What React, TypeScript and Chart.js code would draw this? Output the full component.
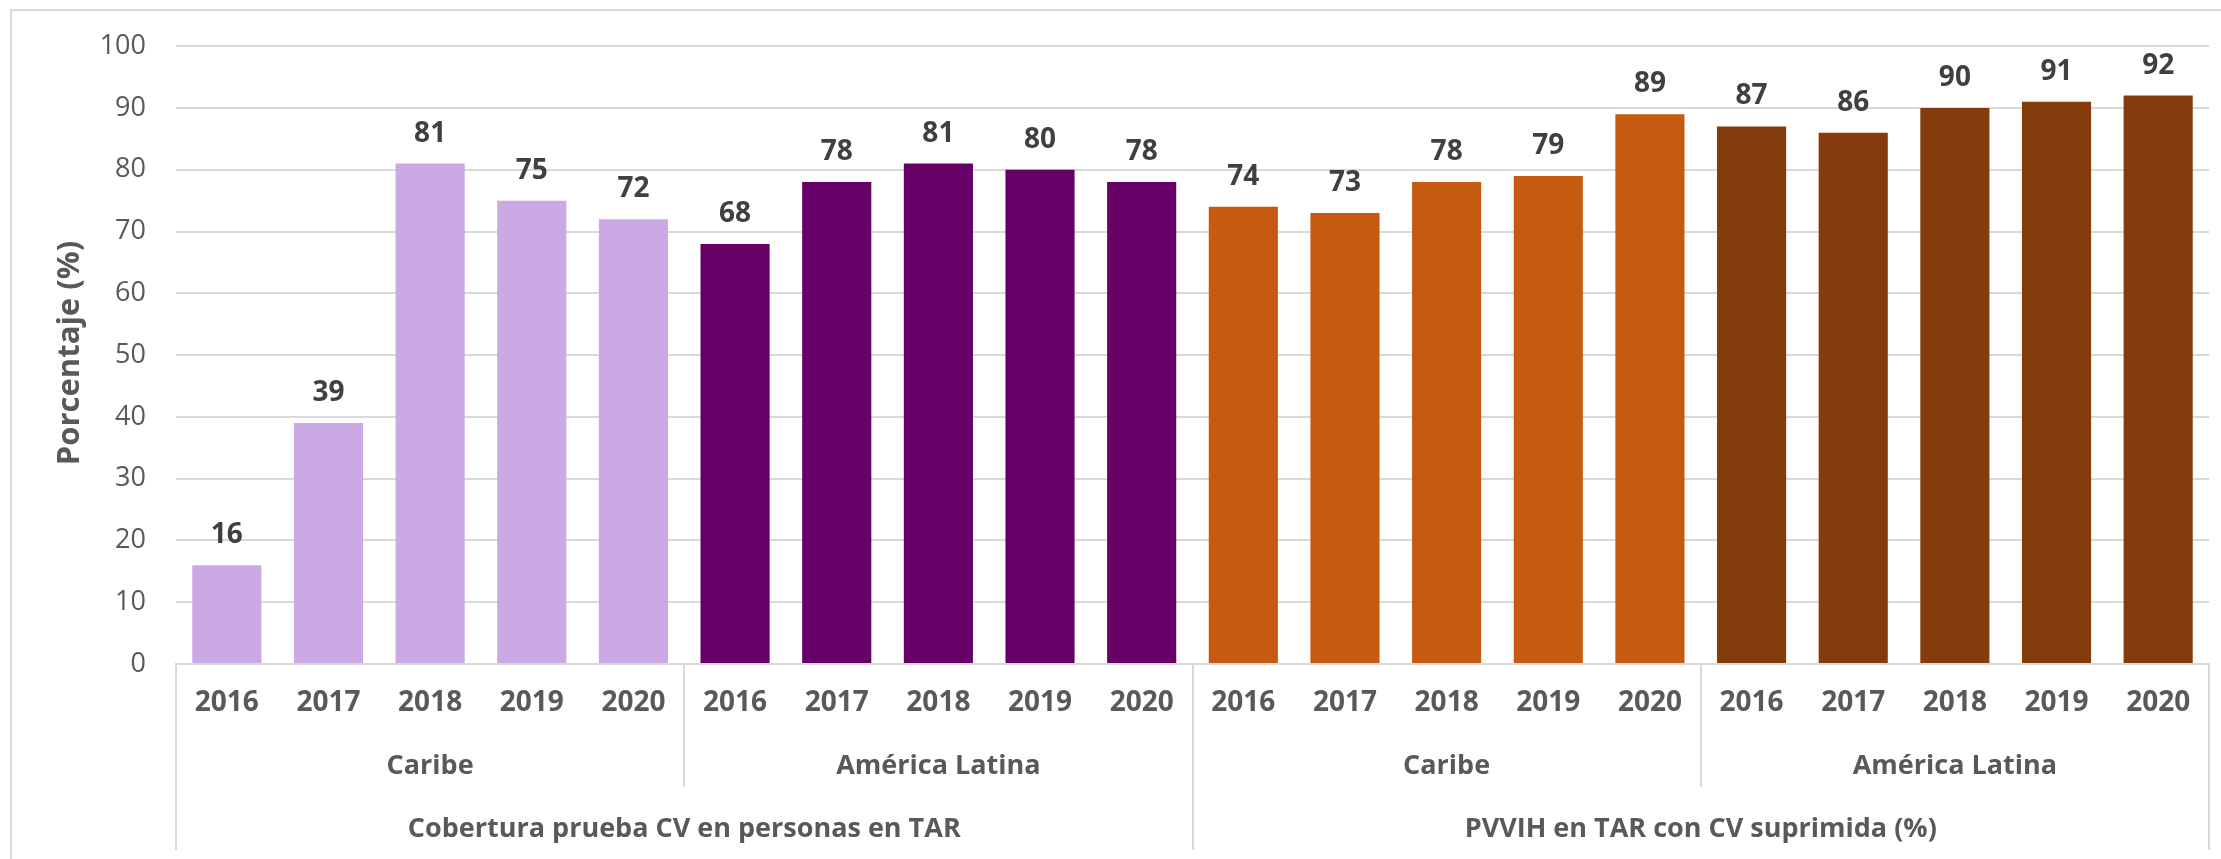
import React, { useEffect, useRef } from "react";
import { Chart, registerables } from "chart.js";

Chart.register(...registerables);

const years = ["2016", "2017", "2018", "2019", "2020"];
const regions = ["Caribe", "América Latina", "Caribe", "América Latina"];
const groups = ["Cobertura prueba CV en personas en TAR", "PVVIH en TAR con CV suprimida (%)"];
const caribeCobertura = [16, 39, 81, 75, 72];
const latinaCobertura = [68, 78, 81, 80, 78];
const caribeSuprimida = [74, 73, 78, 79, 89];
const latinaSuprimida = [87, 86, 90, 91, 92];
const regionColors = ["#CBA9E4", "#660066", "#C55A11", "#843C0C"];
const yTicks = [0, 10, 20, 30, 40, 50, 60, 70, 80, 90, 100];

const FONT = '"Open Sans", "DejaVu Sans", sans-serif';
const GRID = "#D9D9D9";
const TEXT = "#595959";

export default function App() {
  const ref = useRef<HTMLCanvasElement | null>(null);
  useEffect(() => {
    if (!ref.current) return;
    const series = [caribeCobertura, latinaCobertura, caribeSuprimida, latinaSuprimida];
    const labels: string[] = [];
    const values: number[] = [];
    const colors: string[] = [];
    series.forEach((s, gi) => {
      s.forEach((v, i) => {
        labels.push(years[i]);
        values.push(v);
        colors.push(regionColors[gi]);
      });
    });

    const overlay = {
      id: "overlay",
      afterDraw(chart: any) {
        const ctx = chart.ctx as CanvasRenderingContext2D;
        const x = chart.scales.x;
        const bottom = chart.chartArea.bottom;
        const n = labels.length;
        const cw = x.getPixelForValue(1) - x.getPixelForValue(0);
        const edge = (i: number) => x.getPixelForValue(Math.min(i, n - 1)) + (i >= n ? cw / 2 : -cw / 2);
        ctx.save();
        // outer border
        ctx.strokeStyle = GRID;
        ctx.lineWidth = 2;
        ctx.beginPath();
        ctx.moveTo(11, 859);
        ctx.lineTo(11, 10);
        ctx.lineTo(2221, 10);
        ctx.stroke();
        // separators
        ctx.beginPath();
        [0, 10, 20].forEach((i) => {
          const px = Math.round(edge(i));
          ctx.moveTo(px, bottom);
          ctx.lineTo(px, 850);
        });
        [5, 15].forEach((i) => {
          const px = Math.round(edge(i));
          ctx.moveTo(px, bottom);
          ctx.lineTo(px, 787);
        });
        ctx.stroke();
        // data labels
        const meta = chart.getDatasetMeta(0);
        ctx.fillStyle = "#404040";
        ctx.font = `bold 28px ${FONT}`;
        ctx.textAlign = "center";
        ctx.textBaseline = "middle";
        meta.data.forEach((bar: any, i: number) => {
          ctx.fillText(String(values[i]), bar.x, bar.y - 30);
        });
        // region and group labels
        ctx.fillStyle = TEXT;
        ctx.font = `bold 27px ${FONT}`;
        regions.forEach((r, i) => {
          const cx = (edge(i * 5) + edge(i * 5 + 5)) / 2;
          ctx.fillText(r, cx, 766);
        });
        groups.forEach((g, i) => {
          const cx = (edge(i * 10) + edge(i * 10 + 10)) / 2;
          ctx.fillText(g, cx, 829);
        });
        // y title
        ctx.translate(70, 353);
        ctx.rotate(-Math.PI / 2);
        ctx.font = `bold 31px ${FONT}`;
        ctx.fillText("Porcentaje (%)", 0, 0);
        ctx.restore();
      },
    };

    const chart = new Chart(ref.current, {
      type: "bar",
      data: {
        labels,
        datasets: [
          {
            data: values,
            backgroundColor: colors,
            barPercentage: 0.68,
            categoryPercentage: 1,
          },
        ],
      },
      options: {
        animation: false,
        responsive: false,
        layout: { padding: { top: 42, left: 0, right: 12, bottom: 0 } },
        plugins: { legend: { display: false }, tooltip: { enabled: false } },
        scales: {
          x: {
            grid: { display: false, drawTicks: false },
            border: { display: true, color: GRID, width: 2 },
            ticks: {
              color: TEXT,
              font: { family: FONT, size: 28, weight: "bold" },
              padding: 22,
              maxRotation: 0,
              autoSkip: false,
            },
            afterFit: (s: any) => {
              s.height = 859 - 664;
            },
          },
          y: {
            min: 0,
            max: 100,
            afterBuildTicks: (s: any) => {
              s.ticks = yTicks.map((v) => ({ value: v }));
            },
            grid: { color: GRID, lineWidth: 2, drawTicks: false },
            border: { display: false },
            ticks: {
              color: TEXT,
              font: { family: FONT, size: 27 },
              padding: 30,
            },
            afterFit: (s: any) => {
              s.width = 176;
            },
          },
        },
      },
      plugins: [overlay],
    });
    return () => chart.destroy();
  }, []);

  return (
    <div style={{ position: "fixed", left: 0, top: 0, width: 2221, height: 859, background: "#fff" }}>
      <canvas ref={ref} width={2221} height={859} style={{ width: 2221, height: 859, display: "block" }} />
    </div>
  );
}
